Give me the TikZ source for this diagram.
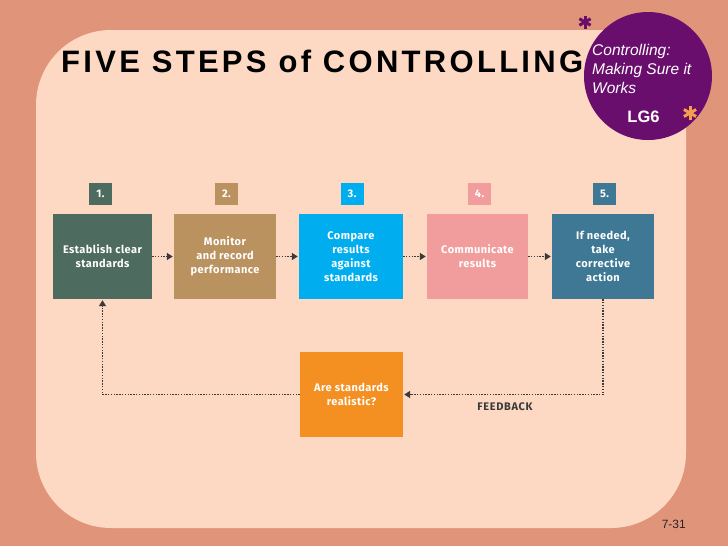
\documentclass[tikz,border=0pt]{standalone}
\usepackage{fontspec}
\setmainfont{Liberation Sans}
\newfontfamily\titlefont[LetterSpace=10.6]{Liberation Sans}
\newfontfamily\boxfont[LetterSpace=4]{Fira Sans}
\newfontfamily\fbfont[LetterSpace=6]{Fira Sans}
\usetikzlibrary{arrows.meta}
\definecolor{outerbg}{HTML}{E0957A}
\definecolor{innerbg}{HTML}{FDD9C4}
\definecolor{lgpurple}{HTML}{6A0E6E}
\definecolor{lgorange}{HTML}{F5A04E}
\definecolor{cgreen}{HTML}{4D6B5F}
\definecolor{ctan}{HTML}{BA9260}
\definecolor{ccyan}{HTML}{00AEEF}
\definecolor{cpink}{HTML}{F29D9D}
\definecolor{csteel}{HTML}{3E7894}
\definecolor{corange}{HTML}{F39021}
\definecolor{cline}{HTML}{3A3A3A}
\begin{document}
\begin{tikzpicture}[x=1pt,y=-1pt,
  stepbox/.style={minimum width=102pt, minimum height=85pt, inner sep=0pt, align=center, text=white,
    font=\boxfont\bfseries\fontsize{11}{14}\selectfont},
  numbox/.style={minimum width=23pt, minimum height=22pt, inner sep=0pt, text=white,
    font=\boxfont\bfseries\fontsize{11}{11}\selectfont},
  flow/.style={cline, line width=1.4pt, dash pattern=on 1.4pt off 1.4pt, -{Triangle[length=6pt,width=7pt]}, shorten >=1pt}
]
% background
\fill[outerbg] (0,0) rectangle (728,546);
\fill[innerbg, rounded corners=75pt] (36,30) rectangle (686,528);

% purple circle
\node[circle, fill=lgpurple, minimum size=128pt, inner sep=0pt] (lg) at (648,76) {};
\node[anchor=north west, inner sep=0pt, align=left, text=white,
  font=\itshape\fontsize{15.5}{19}\selectfont] (lgtext) at (592,44) {Controlling:\\Making Sure it\\Works};
\node[anchor=base, inner sep=0pt, text=white, font=\bfseries\fontsize{16.5}{16.5}\selectfont] (lg6) at (643.5,122) {LG6};

% asterisks
\foreach \a in {90,30,150} {
  \draw[lgpurple, line width=3pt] (585,22) ++(\a:6.5) -- ++(\a+180:13);
  \draw[lgorange, line width=3pt] (690,113) ++(\a:7) -- ++(\a+180:14);
}

% title
\node[anchor=base west, inner sep=0pt, font=\titlefont\bfseries\fontsize{31}{31}\selectfont] (title) at (61,72.3) {FIVE STEPS of CONTROLLING};

% step boxes
\node[stepbox, fill=cgreen, minimum width=99pt] (b1) at (102.5,256.5) {Establish clear\\standards};
\node[stepbox, fill=ctan] (b2) at (225,256.5) {Monitor\\and record\\performance};
\node[stepbox, fill=ccyan, minimum width=104pt] (b3) at (351,256.5) {Compare\\results\\against\\standards};
\node[stepbox, fill=cpink, minimum width=101pt] (b4) at (477.5,256.5) {Communicate\\results};
\node[stepbox, fill=csteel] (b5) at (603,256.5) {If needed,\\take\\corrective\\action};
\node[stepbox, fill=corange, minimum width=103pt] (o) at (351.5,394.5) {Are standards\\realistic?};

% number labels
\node[numbox, fill=cgreen] (n1) at (100.5,194) {1.};
\node[numbox, fill=ctan] (n2) at (226.5,194) {2.};
\node[numbox, fill=ccyan] (n3) at (352,194) {3.};
\node[numbox, fill=cpink] (n4) at (479.5,194) {4.};
\node[numbox, fill=csteel] (n5) at (604.5,194) {5.};

% connectors
\draw[flow] (b1) -- (b2);
\draw[flow] (b2) -- (b3);
\draw[flow] (b3) -- (b4);
\draw[flow] (b4) -- (b5);
\draw[flow] (b5.south) |- (o.east);
\draw[flow] (o.west) -| (b1.south);

\node[inner sep=0pt, text=cline, font=\fbfont\bfseries\fontsize{11}{11}\selectfont] (fb) at (505,407) {FEEDBACK};

% page number
\node[anchor=base east, inner sep=0pt, text=black!85, font=\fontsize{12}{12}\selectfont] (pg) at (686,528) {7-31};
\end{tikzpicture}
\end{document}
